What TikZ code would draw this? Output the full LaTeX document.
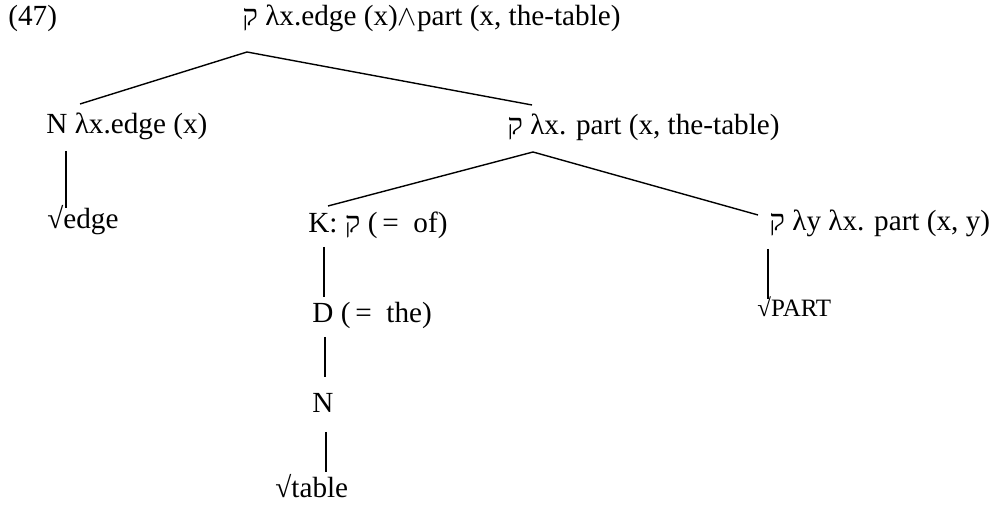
\documentclass[tikz,border=0pt]{standalone}
\usepackage{fontspec}
\setmainfont{Liberation Serif}
\newfontfamily\hebfont[Script=Hebrew]{Liberation Serif}
\TeXXeTstate=1
\newcommand{\qof}{{\hebfont\beginR ק\endR}}
\newcommand{\andsym}{\ensuremath{\wedge}}

\begin{document}
\begin{tikzpicture}[
  x=0.5pt, y=-0.5pt,
  every node/.style={font=\fontsize{14.6}{17}\selectfont, inner sep=0pt, anchor=base west},
  root/.style={font=\fontsize{12.5}{14}\selectfont},
  branch/.style={line width=0.7pt, color=black},
  stem/.style={line width=0.9pt, color=black}
]
\useasboundingbox (0,0) rectangle (999,506);

\node (num) at (8,26) {(47)};
\node (top) at (242,26) {\qof\ λx.edge (x)\andsym part (x, the-table)};
\node (nedge) at (46,134) {N λx.edge (x)};
\node (redge) at (47,229) {√edge};
\node (ppart) at (507,135) {\qof\ λx. part (x, the-table)};
\node (kof) at (308,233) {K: \qof\ (\,= \ of)};
\node (dthe) at (312,323) {D (\,= \ the)};
\node (ntab) at (312,413) {N};
\node (rtab) at (275,497) {√table};
\node (pxy) at (769,231) {\qof\ λy λx. part (x, y)};
\node[root] (rpart) at (757,317) {√PART};

\draw[branch] ([shift={(5,26)}]top.base west) -- ([shift={(34,-30)}]nedge.base west);
\draw[branch] ([shift={(5,26)}]top.base west) -- ([shift={(25,-30)}]ppart.base west);
\draw[stem] ([shift={(20,17)}]nedge.base west) -- ([shift={(19,-21)}]redge.base west);
\draw[branch] ([shift={(26,17)}]ppart.base west) -- ([shift={(20,-27)}]kof.base west);
\draw[branch] ([shift={(26,17)}]ppart.base west) -- ([shift={(-11,-16)}]pxy.base west);
\draw[branch] ([shift={(16,14)}]kof.base west) -- ([shift={(12,-26)}]dthe.base west);
\draw[stem] ([shift={(13,14)}]dthe.base west) -- ([shift={(13,-36)}]ntab.base west);
\draw[stem] ([shift={(14,19)}]ntab.base west) -- ([shift={(51,-25)}]rtab.base west);
\draw[stem] ([shift={(-1,18)}]pxy.base west) -- ([shift={(11,-18)}]rpart.base west);

\end{tikzpicture}
\end{document}
